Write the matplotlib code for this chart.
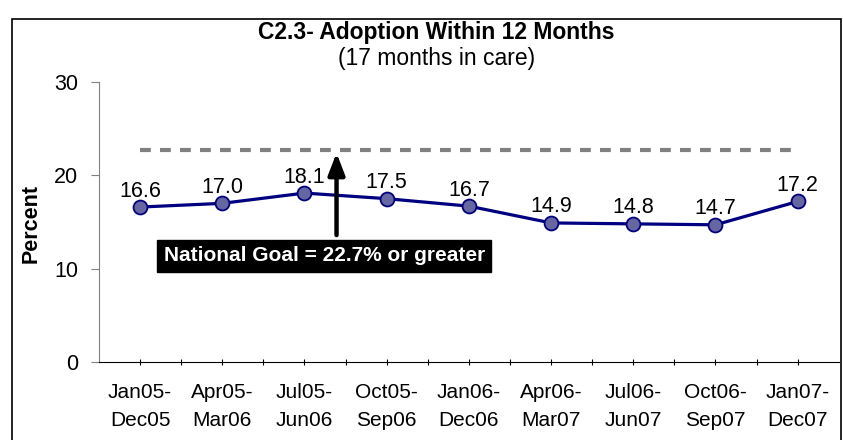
import matplotlib.pyplot as plt
from matplotlib.patches import Rectangle
import numpy as np

plt.rcParams['font.family'] = ['Liberation Sans', 'DejaVu Sans']

# data
periods = ["Jan05-\nDec05", "Apr05-\nMar06", "Jul05-\nJun06", "Oct05-\nSep06",
           "Jan06-\nDec06", "Apr06-\nMar07", "Jul06-\nJun07", "Oct06-\nSep07",
           "Jan07-\nDec07"]
adoption_pct = [16.6, 17.0, 18.1, 17.5, 16.7, 14.9, 14.8, 14.7, 17.2]
goal_pct = 22.7
y_ticks = [0, 10, 20, 30]

x = np.arange(len(periods))

fig = plt.figure(figsize=(8.43, 4.40), dpi=100)
ax = fig.add_axes([0.1174, 0.1773, 0.8776, 0.6363])

# outer chart frame
fig.patches.append(Rectangle((0.0142, -0.02), 0.9836, 0.977, transform=fig.transFigure,
                             fill=False, edgecolor='black', linewidth=1.2))

# goal line
ax.plot([x[0], x[-1]], [goal_pct, goal_pct], color='#808080', linewidth=3,
        linestyle=(0, (2.6, 2.2)), zorder=2)

# series
ax.plot(x, adoption_pct, color='#000080', linewidth=2.3, marker='o', markersize=10,
        markerfacecolor='#6666a0', markeredgecolor='#000080', markeredgewidth=1.3, zorder=3)
for xi, v in zip(x, adoption_pct):
    ax.annotate("%.1f" % v, (xi, v), xytext=(0, 4), textcoords='offset points',
                ha='center', va='bottom', fontsize=15.5)

# goal arrow and label box
ax.annotate("", xy=(2.39, goal_pct), xytext=(2.39, 13.3),
            arrowprops=dict(arrowstyle='-|>,head_width=0.5,head_length=1.3',
                            color='black', linewidth=3.2), zorder=4)
ax.text(2.24, 11.36, "National Goal = 22.7% or greater", color='white', fontsize=15,
        fontweight='bold', ha='center', va='center', zorder=5,
        bbox=dict(boxstyle='square,pad=0.3', facecolor='black', edgecolor='black'))

ax.set_xlim(-0.5, len(periods) - 0.5)
ax.set_ylim(0, 30)
ax.set_yticks(y_ticks)
ax.set_yticklabels([str(t) for t in y_ticks], fontsize=15.5)
ax.set_xticks(np.arange(0, len(periods) - 0.99, 0.5))
ax.set_xticklabels([])
for xi, lab in zip(x, periods):
    ax.text(xi, -2.2, lab, ha='center', va='top', fontsize=15, linespacing=1.65)

ax.tick_params(axis='y', direction='out', length=6, color='#808080', pad=9)
ax.tick_params(axis='x', direction='inout', length=5, color='black')

for side in ['top', 'right']:
    ax.spines[side].set_visible(False)
ax.spines['left'].set_color('#808080')
ax.spines['bottom'].set_color('black')

fig.text(0.0368, 0.491, "Percent", rotation=90, ha='center', va='center',
         fontsize=15.5, fontweight='bold')

fig.text(0.518, 0.927, "C2.3- Adoption Within 12 Months", ha='center', va='center',
         fontsize=16.5, fontweight='bold')
fig.text(0.518, 0.868, "(17 months in care)", ha='center', va='center', fontsize=16.5)

fig.savefig("out.png", dpi=100)
